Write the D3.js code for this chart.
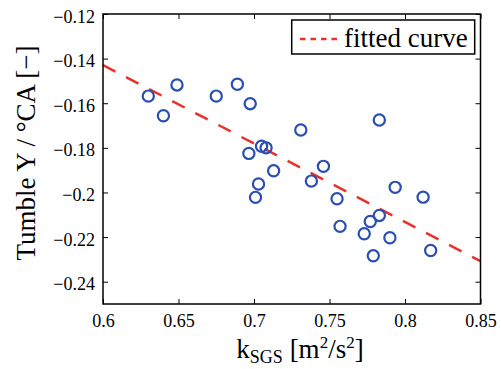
<!DOCTYPE html>
<html><head><meta charset="utf-8">
<script src="https://cdn.jsdelivr.net/npm/d3@7"></script>
<style>
html,body{margin:0;padding:0;background:#fff;}
svg text{font-family:'Liberation Serif','Tinos','Nimbus Roman','Times New Roman','DejaVu Serif',serif !important;fill:#000;}
</style></head>
<body>
<svg id="chart" width="501" height="369"></svg>
<script>
// data
const kSGS = [0.630,0.649,0.640,0.675,0.689,0.6975,0.705,0.708,0.6966,0.713,0.703,0.701,0.731,0.783,0.746,0.738,0.755,0.7935,0.812,0.783,0.777,0.757,0.773,0.790,0.817,0.779];
const tumbleY = [-0.1568,-0.1518,-0.1656,-0.1568,-0.1515,-0.1602,-0.1793,-0.1800,-0.1825,-0.1903,-0.1962,-0.2022,-0.1720,-0.1675,-0.1883,-0.1949,-0.2028,-0.1977,-0.2021,-0.2103,-0.2130,-0.2152,-0.2185,-0.2203,-0.2260,-0.2284];
const fitX = [0.6, 0.85];
const fitY = [-0.1429, -0.2308];
const xTicks = [0.6,0.65,0.7,0.75,0.8,0.85];
const xTickLabels = ["0.6","0.65","0.7","0.75","0.8","0.85"];
const yTicks = [-0.24,-0.22,-0.2,-0.18,-0.16,-0.14,-0.12];
const yTickLabels = ["\u22120.24","\u22120.22","\u22120.2","\u22120.18","\u22120.16","\u22120.14","\u22120.12"];
const legendLabels = ["fitted curve"];

const svg = d3.select("#chart");
const L=103, R=480.5, T=14, B=304;
const x = d3.scaleLinear().domain([0.6,0.85]).range([L,R]);
const y = d3.scaleLinear().domain([-0.25,-0.12]).range([B,T]);

const blue="#2a4fb0", red="#e8312a";
const FONT = "'Liberation Serif','Tinos','Nimbus Roman','Times New Roman','DejaVu Serif',serif";

svg.append("clipPath").attr("id","clp").append("rect").attr("x",L).attr("y",T).attr("width",R-L).attr("height",B-T);
svg.append("path")
  .datum(fitX.map((d,i)=>[d,fitY[i]]))
  .attr("d", d3.line().x(d=>x(d[0])).y(d=>y(d[1])))
  .attr("stroke",red).attr("stroke-width",2.5).attr("fill","none")
  .attr("stroke-dasharray","14,12").attr("clip-path","url(#clp)");

svg.append("g").selectAll("circle").data(kSGS.map((d,i)=>[d,tumbleY[i]])).join("circle")
  .attr("cx",d=>x(d[0])).attr("cy",d=>y(d[1])).attr("r",5.6)
  .attr("fill","none").attr("stroke",blue).attr("stroke-width",2.2);

const tl=5;
const gB = svg.append("g").attr("transform",`translate(0,${B})`)
  .call(d3.axisBottom(x).tickValues(xTicks).tickFormat((d,i)=>xTickLabels[i]).tickSizeInner(-tl).tickSizeOuter(0).tickPadding(10));
const gT = svg.append("g").attr("transform",`translate(0,${T})`)
  .call(d3.axisTop(x).tickValues(xTicks).tickFormat("").tickSizeInner(-tl).tickSizeOuter(0));
const gL = svg.append("g").attr("transform",`translate(${L},0)`)
  .call(d3.axisLeft(y).tickValues(yTicks).tickFormat((d,i)=>yTickLabels[i]).tickSizeInner(-tl).tickSizeOuter(0).tickPadding(8));
const gR = svg.append("g").attr("transform",`translate(${R},0)`)
  .call(d3.axisRight(y).tickValues(yTicks).tickFormat("").tickSizeInner(-tl).tickSizeOuter(0));
[gB,gT,gL,gR].forEach(g=>{
  g.attr("font-family",FONT).attr("font-size",18);
  g.selectAll(".domain").remove();
  g.selectAll("line").attr("stroke","#000").attr("stroke-width",1);
  g.selectAll("text").attr("fill","#000");
});
gL.selectAll("text").attr("dy","0.45em");
svg.append("rect").attr("x",L).attr("y",T).attr("width",R-L).attr("height",B-T)
  .attr("fill","none").attr("stroke","#000").attr("stroke-width",1.5);

const xl = svg.append("text").attr("x",300).attr("y",358).attr("text-anchor","middle").attr("font-family",FONT).attr("font-size",27);
xl.append("tspan").text("k");
xl.append("tspan").attr("dy",5).attr("font-size",18).text("SGS");
xl.append("tspan").attr("dy",-5).text(" [m");
xl.append("tspan").attr("dy",-10).attr("font-size",17).text("2");
xl.append("tspan").attr("dy",10).text("/s");
xl.append("tspan").attr("dy",-10).attr("font-size",17).text("2");
xl.append("tspan").attr("dy",10).text("]");

svg.append("text").attr("transform","translate(35,153) rotate(-90)").attr("text-anchor","middle")
  .attr("font-family",FONT).attr("font-size",27).text("Tumble Y / \u00B0CA [\u2212]");

const lg = svg.append("g");
lg.append("rect").attr("x",291.7).attr("y",20).attr("width",183).attr("height",34)
  .attr("fill","#fff").attr("stroke","#000").attr("stroke-width",1.5);
lg.append("line").attr("x1",300).attr("x2",337).attr("y1",39).attr("y2",39)
  .attr("stroke",red).attr("stroke-width",2.5).attr("stroke-dasharray","5.5,5");
lg.append("text").attr("x",344).attr("y",47).attr("font-family",FONT).attr("font-size",27).text(legendLabels[0]);
</script>
</body></html>
